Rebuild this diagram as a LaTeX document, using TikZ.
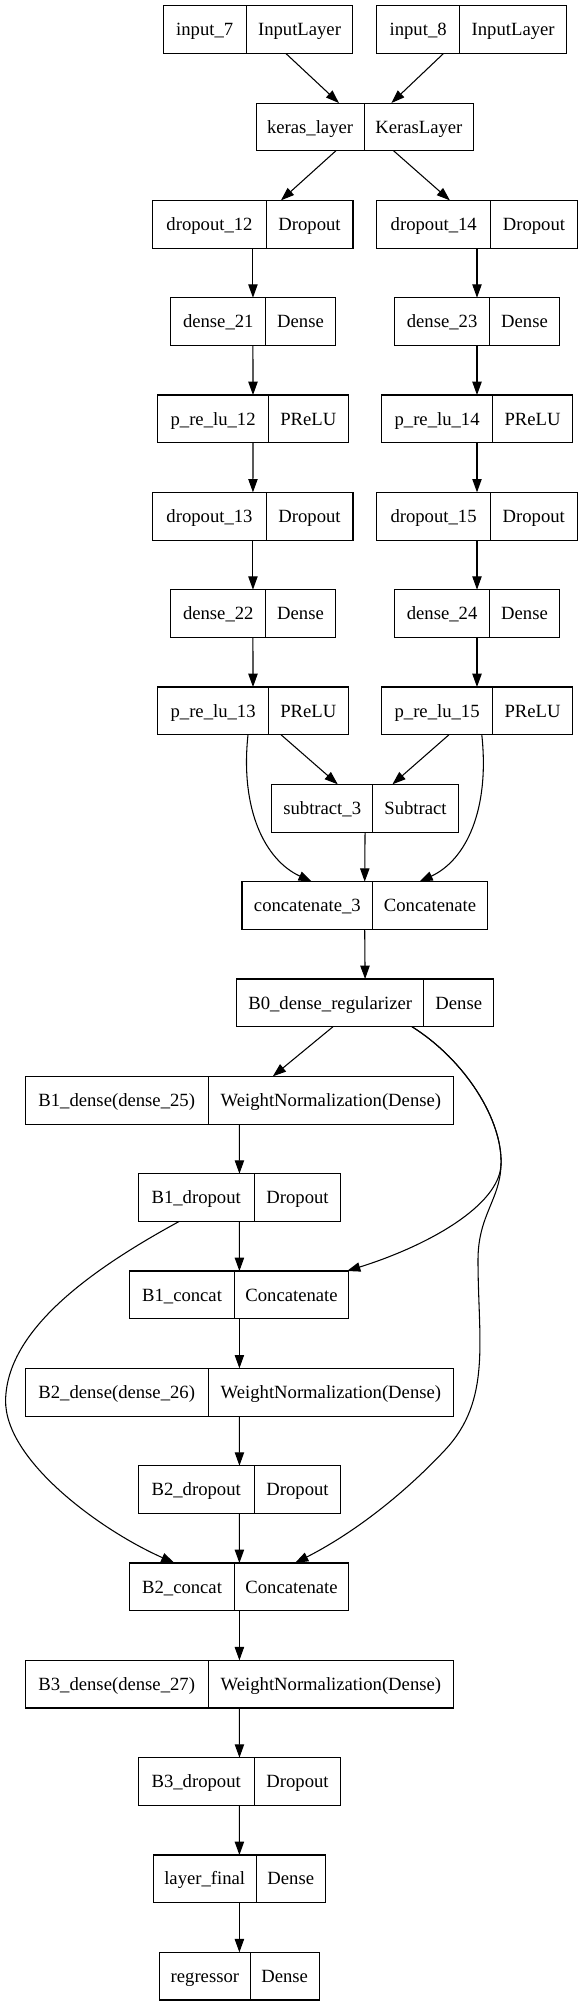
\documentclass[tikz,border=0pt]{standalone}
\usepackage{fontspec}
\setmainfont{Liberation Serif}
\usetikzlibrary{arrows.meta,calc}
\newcommand{\recnode}[7]{%
  \pgfmathsetmacro{\rtop}{5.7+97.33*#5}%
  \node[recbox, minimum width={(#4-#2)*0.75pt}] (#1) at ({(#2+#4)/2},{\rtop+23.85}) {};%
  \draw[recline] (#3,\rtop) -- (#3,{\rtop+47.7});%
  \node[fieldtxt] (#1-l) at ({(#2+#3)/2},{\rtop+30}) {#6};%
  \node[fieldtxt] (#1-r) at ({(#3+#4)/2},{\rtop+30}) {#7};%
}
\begin{document}
\begin{tikzpicture}[x=0.75pt,y=-0.75pt,
  recbox/.style={draw=black, line width=0.8pt, rectangle, inner sep=0pt, outer sep=0pt, minimum height=35.775pt},
  recline/.style={draw=black, line width=0.8pt},
  fieldtxt/.style={anchor=base, inner sep=0pt, font=\fontsize{14}{16}\selectfont},
  edge/.style={draw=black, line width=0.8pt, -{Triangle[length=10pt,width=7pt]}},
]
\useasboundingbox (0,0) rectangle (582,2007);

\recnode{in7}{163.3}{246.1}{352.9}{0}{input\_7}{InputLayer}
\recnode{in8}{376.8}{459.5}{566.8}{0}{input\_8}{InputLayer}
\recnode{keras}{256.1}{364.1}{473.6}{1}{keras\_layer}{KerasLayer}
\recnode{do12}{152.9}{266.1}{353.0}{2}{dropout\_12}{Dropout}
\recnode{do14}{376.8}{490.7}{577.2}{2}{dropout\_14}{Dropout}
\recnode{d21}{170.7}{265.8}{335.2}{3}{dense\_21}{Dense}
\recnode{d23}{394.6}{489.6}{559.4}{3}{dense\_23}{Dense}
\recnode{pr12}{157.8}{268.4}{348.2}{4}{p\_re\_lu\_12}{PReLU}
\recnode{pr14}{381.6}{492.6}{572.4}{4}{p\_re\_lu\_14}{PReLU}
\recnode{do13}{152.9}{266.1}{353.0}{5}{dropout\_13}{Dropout}
\recnode{do15}{376.8}{490.3}{577.2}{5}{dropout\_15}{Dropout}
\recnode{d22}{170.7}{265.8}{335.2}{6}{dense\_22}{Dense}
\recnode{d24}{394.6}{489.6}{559.4}{6}{dense\_24}{Dense}
\recnode{pr13}{157.8}{268.4}{348.2}{7}{p\_re\_lu\_13}{PReLU}
\recnode{pr15}{381.6}{492.6}{572.4}{7}{p\_re\_lu\_15}{PReLU}
\recnode{sub}{271.7}{372.7}{458.4}{8}{subtract\_3}{Subtract}
\recnode{cat3}{242.0}{372.7}{487.4}{9}{concatenate\_3}{Concatenate}
\recnode{b0}{236.5}{423.9}{493.7}{10}{B0\_dense\_regularizer}{Dense}
\recnode{b1d}{25.2}{208.2}{453.6}{11}{B1\_dense(dense\_25)}{WeightNormalization(Dense)}
\recnode{b1do}{138.1}{254.3}{340.8}{12}{B1\_dropout}{Dropout}
\recnode{b1c}{129.9}{234.2}{348.9}{13}{B1\_concat}{Concatenate}
\recnode{b2d}{25.2}{208.2}{453.6}{14}{B2\_dense(dense\_26)}{WeightNormalization(Dense)}
\recnode{b2do}{138.1}{254.3}{340.8}{15}{B2\_dropout}{Dropout}
\recnode{b2c}{129.9}{234.2}{348.9}{16}{B2\_concat}{Concatenate}
\recnode{b3d}{25.2}{208.2}{453.6}{17}{B3\_dense(dense\_27)}{WeightNormalization(Dense)}
\recnode{b3do}{138.1}{254.3}{340.8}{18}{B3\_dropout}{Dropout}
\recnode{lf}{153.3}{256.1}{325.5}{19}{layer\_final}{Dense}
\recnode{reg}{159.6}{250.2}{319.2}{20}{regressor}{Dense}

% top
\draw[edge] ($(in7.south)+(27.7,0)$) -- ($(keras.north)+(-25.9,0)$);
\draw[edge] ($(in8.south)+(-28.2,0)$) -- ($(keras.north)+(26.5,0)$);
\draw[edge] ($(keras.south)+(-28.9,0)$) -- ($(do12.north)+(28.0,0)$);
\draw[edge] ($(keras.south)+(28.7,0)$) -- ($(do14.north)+(-27.1,0)$);
% columns
\draw[edge] (do12.south) -- (d21.north);
\draw[edge] (d21.south) -- (pr12.north);
\draw[edge] (pr12.south) -- (do13.north);
\draw[edge] (do13.south) -- (d22.north);
\draw[edge] (d22.south) -- (pr13.north);
\draw[edge] (do14.south) -- (d23.north);
\draw[edge] (d23.south) -- (pr14.north);
\draw[edge] (pr14.south) -- (do15.north);
\draw[edge] (do15.south) -- (d24.north);
\draw[edge] (d24.south) -- (pr15.north);
% merge
\draw[edge] ($(pr13.south)+(28,0)$) -- ($(sub.north)+(-27.25,0)$);
\draw[edge] ($(pr15.south)+(-28,0)$) -- ($(sub.north)+(27.35,0)$);
\draw[edge] ($(pr13.south)+(-5,0)$) .. controls +(-8,75) and +(-46.8,-21.7) .. ($(cat3.north)+(-52.9,0)$);
\draw[edge] ($(pr15.south)+(4.8,0)$) .. controls +(8,75) and +(46.8,-21.7) .. ($(cat3.north)+(54.7,0)$);
\draw[edge] (sub.south) -- (cat3.north);
\draw[edge] (cat3.south) -- (b0.north);
% B blocks
\coordinate (split) at (501,1165);
\draw[edge] ($(b0.south)+(-32.1,0)$) -- ($(b1d.north)+(33.4,0)$);
\draw[edge] ($(b0.south)+(46.9,0)$) .. controls +(53,33.3) and (503,1120) .. (split) .. controls (499,1205) and (430,1245) .. ($(b1c.north)+(107.6,0)$);
\draw[edge] ($(b0.south)+(46.9,0)$) .. controls +(53,33.3) and (503,1120) .. (split) .. controls (500,1200) and (478,1215) .. (478,1260) .. controls (478,1340) and (492,1400) .. (445,1450) .. controls (400,1498) and (350,1535) .. ($(b2c.north)+(55.6,0)$);
\draw[edge] ($(b1do.south)+(-60.15,0)$) .. controls (90,1270) and (7,1330) .. (5.6,1400) .. controls (4.5,1460) and (100,1530) .. ($(b2c.north)+(-64.9,0)$);
\draw[edge] (b1d.south) -- (b1do.north);
\draw[edge] (b1do.south) -- (b1c.north);
\draw[edge] (b1c.south) -- (b2d.north);
\draw[edge] (b2d.south) -- (b2do.north);
\draw[edge] (b2do.south) -- (b2c.north);
\draw[edge] (b2c.south) -- (b3d.north);
\draw[edge] (b3d.south) -- (b3do.north);
\draw[edge] (b3do.south) -- (lf.north);
\draw[edge] (lf.south) -- (reg.north);
\end{tikzpicture}
\end{document}
